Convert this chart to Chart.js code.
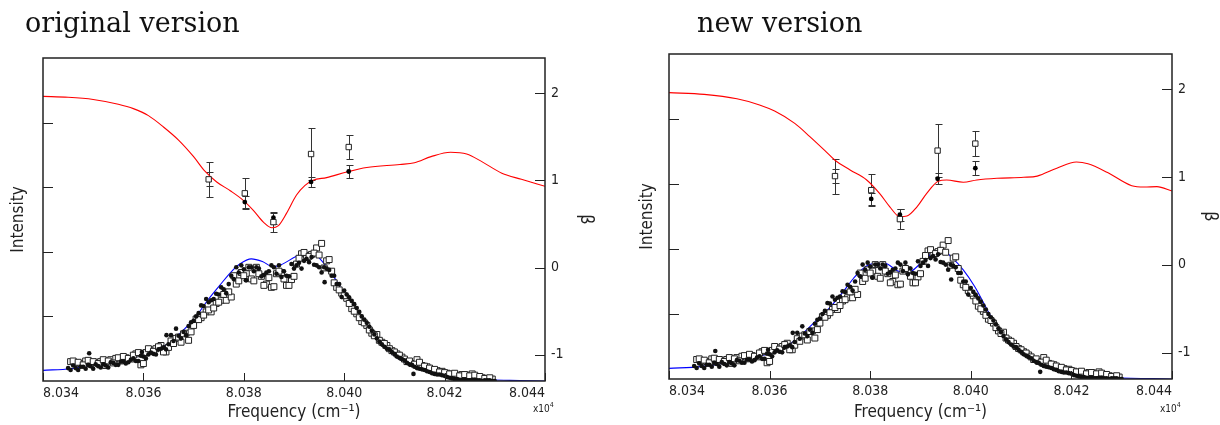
<!DOCTYPE html>
<html>
<head>
<meta charset="utf-8">
<script src="https://cdn.jsdelivr.net/npm/chart.js@4.4.1/dist/chart.umd.min.js"></script>
<style>
  body { margin: 0; background: #fff; width: 1220px; height: 425px; overflow: hidden; position: relative; }
  .panel { position: absolute; top: 0; width: 610px; height: 425px; }
  .title { position: absolute; top: 9px; font-family: 'DejaVu Serif', serif; font-size: 27px; line-height: 1; color: #111; white-space: nowrap; }
</style>
</head>
<body>
<div class="panel" style="left:0"><canvas id="orig" width="610" height="425"></canvas></div>
<div class="panel" style="left:610px"><canvas id="new" width="610" height="425"></canvas></div>
<div class="title" style="left:25px">original version</div>
<div class="title" style="left:697px">new version</div>
<script>
// axis ticks
const xTickValues = [80340, 80360, 80380, 80400, 80420, 80440];
const xTickLabels = ['8.034', '8.036', '8.038', '8.040', '8.042', '8.044'];
const intensityTicks = [1, 2, 3, 4];
const betaTicks = [-1, 0, 1, 2];

// measured spectrum, filled dots (cm-1, intensity)
const dotFreq = [80345, 80346, 80347, 80348, 80349, 80350, 80351, 80352, 80353, 80354,
  80355, 80356, 80357, 80358, 80359, 80360, 80361, 80362, 80363, 80364,
  80365, 80366, 80367, 80368, 80369, 80370, 80371, 80372, 80373, 80374,
  80375, 80376, 80377, 80378, 80379, 80380, 80381, 80382, 80383, 80384,
  80385, 80386, 80387, 80388, 80389, 80390, 80391, 80392, 80393, 80394,
  80395, 80396, 80397, 80398, 80399, 80400, 80401, 80402, 80403, 80404,
  80405, 80406, 80407, 80408, 80409, 80410, 80411, 80412, 80413, 80414,
  80415, 80416, 80417, 80418, 80419, 80420, 80421, 80422, 80423, 80424,
  80425, 80426, 80427, 80428, 80429, 80430,
  80345.5, 80346.5, 80347.5, 80348.5, 80349.5, 80350.5, 80351.5, 80352.5, 80353.5, 80354.5,
  80355.5, 80356.5, 80357.5, 80358.5, 80359.5, 80360.5, 80361.5, 80362.5, 80363.5, 80364.5,
  80365.5, 80366.5, 80367.5, 80368.5, 80369.5, 80370.5, 80371.5, 80372.5, 80373.5, 80374.5,
  80375.5, 80376.5, 80377.5, 80378.5, 80379.5, 80380.5, 80381.5, 80382.5, 80383.5, 80384.5,
  80385.5, 80386.5, 80387.5, 80388.5, 80389.5, 80390.5, 80391.5, 80392.5, 80393.5, 80394.5,
  80395.5, 80396.5, 80397.5, 80398.5, 80399.5, 80400.5, 80401.5, 80402.5, 80403.5, 80404.5,
  80405.5, 80406.5, 80407.5, 80408.5, 80409.5, 80410.5, 80411.5, 80412.5, 80413.5, 80414.5,
  80415.5, 80416.5, 80417.5, 80418.5, 80419.5, 80420.5, 80421.5, 80422.5, 80423.5, 80424.5,
  80425.5, 80426.5, 80427.5, 80428.5, 80429.5,
  80349.2, 80359.7, 80364.6, 80380.4, 80396.1, 80413.8];
const dotInt = [0.20, 0.24, 0.17, 0.22, 0.25, 0.19, 0.23, 0.26, 0.21, 0.28,
  0.25, 0.30, 0.29, 0.35, 0.31, 0.38, 0.41, 0.42, 0.49, 0.52,
  0.57, 0.62, 0.70, 0.76, 0.85, 0.93, 1.05, 1.16, 1.22, 1.27,
  1.34, 1.42, 1.50, 1.58, 1.68, 1.73, 1.76, 1.70, 1.74, 1.64,
  1.70, 1.76, 1.79, 1.70, 1.62, 1.74, 1.83, 1.86, 1.84, 1.80,
  1.76, 1.76, 1.72, 1.63, 1.50, 1.40, 1.29, 1.19, 1.07, 0.95,
  0.84, 0.72, 0.61, 0.53, 0.49, 0.42, 0.36, 0.32, 0.26, 0.22,
  0.19, 0.17, 0.14, 0.11, 0.10, 0.08, 0.05, 0.03, 0.02, 0.02,
  0.01, 0.02, 0.01, 0.01, 0.01, 0.00,
  0.17, 0.20, 0.22, 0.19, 0.23, 0.26, 0.21, 0.24, 0.29, 0.25,
  0.30, 0.27, 0.33, 0.31, 0.39, 0.35, 0.44, 0.41, 0.50, 0.49,
  0.71, 0.81, 0.66, 0.71, 0.91, 1.00, 1.17, 1.27, 1.25, 1.35,
  1.45, 1.36, 1.63, 1.76, 1.79, 1.56, 1.76, 1.76, 1.62, 1.68,
  1.79, 1.66, 1.61, 1.63, 1.81, 1.79, 1.74, 1.89, 1.92, 1.79,
  1.68, 1.74, 1.63, 1.50, 1.30, 1.34, 1.24, 1.13, 1.00, 0.90,
  0.78, 0.66, 0.57, 0.50, 0.45, 0.38, 0.34, 0.28, 0.25, 0.20,
  0.18, 0.15, 0.12, 0.10, 0.09, 0.06, 0.04, 0.03, 0.02, 0.01,
  0.02, 0.01, 0.00, 0.01, 0.00,
  0.43, 0.45, 0.71, 1.56, 1.53, 0.11];

// measured spectrum, open squares
const sqFreq = [80345.5, 80346.5, 80347.5, 80348.5, 80349.5, 80350.5, 80351.5, 80352.5, 80353.5, 80354.5,
  80355.5, 80356.5, 80357.5, 80358.5, 80359.5, 80360.5, 80361.5, 80362.5, 80363.5, 80364.5,
  80365.5, 80366.5, 80367.5, 80368.5, 80369.5, 80370.5, 80371.5, 80372.5, 80373.5, 80374.5,
  80375.5, 80376.5, 80377.5, 80378.5, 80379.5, 80380.5, 80381.5, 80382.5, 80383.5, 80384.5,
  80385.5, 80386.5, 80387.5, 80388.5, 80389.5, 80390.5, 80391.5, 80392.5, 80393.5, 80394.5,
  80395.5, 80396.5, 80397.5, 80398.5, 80399.5, 80400.5, 80401.5, 80402.5, 80403.5, 80404.5,
  80405.5, 80406.5, 80407.5, 80408.5, 80409.5, 80410.5, 80411.5, 80412.5, 80413.5, 80414.5,
  80415.5, 80416.5, 80417.5, 80418.5, 80419.5, 80420.5, 80421.5, 80422.5, 80423.5, 80424.5,
  80425.5, 80426.5, 80427.5, 80428.5, 80429.5,
  80346, 80347, 80348, 80349, 80350, 80351, 80352, 80353, 80354, 80355,
  80356, 80357, 80358, 80359, 80360, 80361, 80362, 80363, 80364, 80365,
  80366, 80367, 80368, 80369, 80370, 80371, 80372, 80373, 80374, 80375,
  80376, 80377, 80378, 80379, 80380, 80381, 80382, 80383, 80384, 80385,
  80386, 80387, 80388, 80389, 80390, 80391, 80392, 80393, 80394, 80395,
  80396, 80397, 80398, 80399, 80400, 80401, 80402, 80403, 80404, 80405,
  80406, 80407, 80408, 80409, 80410, 80411, 80412, 80413, 80414, 80415,
  80416, 80417, 80418, 80419, 80420, 80421, 80422, 80423, 80424, 80425,
  80426, 80427, 80428, 80429];
const sqInt = [0.30, 0.28, 0.27, 0.31, 0.26, 0.29, 0.30, 0.24, 0.33, 0.35,
  0.31, 0.36, 0.34, 0.42, 0.25, 0.44, 0.48, 0.50, 0.55, 0.45,
  0.62, 0.66, 0.60, 0.74, 0.76, 0.96, 0.98, 1.07, 1.07, 1.20,
  1.25, 1.25, 1.30, 1.50, 1.68, 1.66, 1.58, 1.76, 1.62, 1.50,
  1.45, 1.66, 1.68, 1.48, 1.57, 1.81, 1.97, 1.94, 1.96, 2.06,
  2.13, 1.86, 1.70, 1.45, 1.36, 1.28, 1.12, 1.04, 0.92, 0.86,
  0.74, 0.72, 0.60, 0.55, 0.47, 0.42, 0.37, 0.30, 0.27, 0.33,
  0.24, 0.22, 0.17, 0.16, 0.15, 0.12, 0.10, 0.09, 0.10, 0.09,
  0.11, 0.06, 0.05, 0.04, 0.03,
  0.31, 0.29, 0.25, 0.32, 0.30, 0.27, 0.33, 0.31, 0.28, 0.36,
  0.38, 0.35, 0.40, 0.44, 0.27, 0.50, 0.46, 0.53, 0.45, 0.52,
  0.58, 0.68, 0.73, 0.63, 0.86, 0.95, 1.02, 1.10, 1.13, 1.22,
  1.34, 1.38, 1.63, 1.55, 1.63, 1.76, 1.55, 1.66, 1.48, 1.60,
  1.46, 1.70, 1.58, 1.48, 1.62, 1.90, 1.99, 1.93, 1.98, 1.95,
  1.75, 1.88, 1.52, 1.41, 1.32, 1.20, 1.08, 0.98, 0.90, 0.79,
  0.70, 0.63, 0.58, 0.50, 0.45, 0.40, 0.34, 0.31, 0.26, 0.29,
  0.23, 0.20, 0.18, 0.14, 0.13, 0.11, 0.12, 0.08, 0.10, 0.08,
  0.09, 0.07, 0.04, 0.05];

// measured beta with error bars
const betaFreq = [80373, 80380.2, 80385.9, 80393.4, 80400.9];
const betaSq = [1.01, 0.85, 0.52, 1.30, 1.38];
const betaSqErr = [0.20, 0.18, 0.11, 0.30, 0.14];
const betaDot = [1.01, 0.75, 0.57, 0.98, 1.10];
const betaDotErr = [0.08, 0.07, 0.07, 0.06, 0.08];

// original version fits
const origBetaFreq = [80340, 80345, 80350, 80355, 80358, 80361, 80364, 80367, 80370, 80372.3,
  80374.6, 80377.3, 80379.9, 80381.9, 80383.9, 80385.6, 80386.9, 80388.5, 80390.5, 80392.2,
  80393.8, 80396.5, 80400.5, 80404.5, 80411.1, 80414, 80417.3, 80421.2, 80424.4, 80427.5,
  80431.4, 80435.3, 80440];
const origBeta = [1.96, 1.95, 1.925, 1.87, 1.82, 1.74, 1.61, 1.46, 1.27, 1.10,
  0.98, 0.88, 0.77, 0.655, 0.52, 0.455, 0.48, 0.62, 0.83, 0.94,
  1.00, 1.03, 1.094, 1.145, 1.18, 1.20, 1.27, 1.32, 1.30, 1.21,
  1.08, 1.01, 0.93];
const origIntFreq = [80340, 80345.5, 80350.9, 80357.2, 80361.9, 80365, 80368, 80370.5, 80372.8, 80375.2,
  80377.5, 80379.2, 80381.5, 80383.7, 80385.8, 80387.4, 80390.5, 80392.9, 80394.2, 80395.4,
  80397.2, 80399.2, 80400.5, 80403.5, 80405.6, 80408, 80410.3, 80413.4, 80417.3, 80421.3,
  80425.2, 80433, 80440];
const origInt = [0.165, 0.19, 0.26, 0.35, 0.45, 0.58, 0.79, 1.00, 1.25, 1.48,
  1.69, 1.81, 1.89, 1.85, 1.77, 1.80, 1.93, 1.99, 1.97, 1.87,
  1.70, 1.45, 1.27, 0.95, 0.72, 0.52, 0.37, 0.24, 0.14, 0.07,
  0.036, 0.01, 0];

// new version fits
const newBetaFreq = [80340, 80347, 80353.5, 80358, 80361, 80365, 80368, 80371, 80373, 80376,
  80379.3, 80381.9, 80383.9, 80385.9, 80387.3, 80389.3, 80391.2, 80393.5, 80395.2, 80398.5,
  80401.2, 80405.2, 80410.5, 80413.2, 80417.1, 80421, 80423.3, 80427.2, 80432, 80434.5,
  80437, 80440];
const newBeta = [1.96, 1.94, 1.89, 1.82, 1.75, 1.61, 1.46, 1.30, 1.19, 1.08,
  0.966, 0.81, 0.66, 0.547, 0.555, 0.66, 0.81, 0.95, 0.966, 0.94,
  0.966, 0.985, 0.996, 1.01, 1.10, 1.17, 1.15, 1.05, 0.90, 0.885,
  0.89, 0.84];
const newIntFreq = [80340, 80346.4, 80352.7, 80358.9, 80362.7, 80365.9, 80369, 80372.1, 80374.4, 80376.7,
  80379.1, 80381.4, 80382.9, 80385.3, 80386.8, 80388.4, 80390.7, 80393, 80394.6, 80396.1,
  80398.5, 80400.8, 80403.1, 80405.4, 80407.8, 80410.1, 80413.2, 80417.1, 80421, 80428.7,
  80440];
const newInt = [0.164, 0.19, 0.27, 0.37, 0.47, 0.65, 0.88, 1.11, 1.32, 1.55,
  1.73, 1.78, 1.78, 1.67, 1.63, 1.67, 1.83, 1.96, 1.97, 1.88,
  1.68, 1.42, 1.09, 0.78, 0.55, 0.39, 0.27, 0.14, 0.06, 0.02,
  0];

const sans = "'DejaVu Sans Condensed', 'Liberation Sans Narrow', 'DejaVu Sans', sans-serif";
const ink = '#222';

function pairs(xs, ys) {
  return xs.map((x, i) => ({ x: x, y: ys[i] }));
}

// vertical error bars for datasets carrying an "errors" array
const errorBars = {
  id: 'errorBars',
  beforeDatasetsDraw(chart) {
    const ctx = chart.ctx;
    const yB = chart.scales.yB;
    ctx.save();
    ctx.strokeStyle = '#333';
    ctx.lineWidth = 1;
    chart.data.datasets.forEach((ds, i) => {
      if (!ds.errors) return;
      chart.getDatasetMeta(i).data.forEach((pt, j) => {
        const v = ds.data[j].y, e = ds.errors[j];
        const x = Math.round(pt.x) + 0.5;
        const y1 = Math.round(yB.getPixelForValue(v + e)) + 0.5;
        const y2 = Math.round(yB.getPixelForValue(v - e)) + 0.5;
        ctx.beginPath();
        ctx.moveTo(x, y1); ctx.lineTo(x, y2);
        ctx.moveTo(x - 3, y1); ctx.lineTo(x + 4, y1);
        ctx.moveTo(x - 3, y2); ctx.lineTo(x + 4, y2);
        ctx.stroke();
      });
    });
    ctx.restore();
  }
};

// box, inward ticks and the x10^4 factor
const frame = {
  id: 'frame',
  afterDraw(chart) {
    const { ctx, chartArea: a, scales } = chart;
    ctx.save();
    ctx.strokeStyle = ink;
    ctx.lineWidth = 1;
    ctx.beginPath();
    xTickValues.forEach(v => {
      const px = Math.round(scales.x.getPixelForValue(v)) + 0.5;
      ctx.moveTo(px, a.bottom); ctx.lineTo(px, a.bottom - 8);
    });
    intensityTicks.forEach(v => {
      const py = Math.round(scales.yI.getPixelForValue(v)) + 0.5;
      ctx.moveTo(a.left, py); ctx.lineTo(a.left + 10, py);
    });
    betaTicks.forEach(v => {
      const py = Math.round(scales.yB.getPixelForValue(v)) + 0.5;
      ctx.moveTo(a.right, py); ctx.lineTo(a.right - 10, py);
    });
    ctx.stroke();
    ctx.lineWidth = 1.5;
    ctx.strokeRect(a.left, a.top, a.right - a.left, a.bottom - a.top);
    ctx.fillStyle = ink;
    ctx.textAlign = 'left';
    ctx.textBaseline = 'alphabetic';
    ctx.font = '10px ' + sans;
    const w = ctx.measureText('x10').width;
    ctx.fillText('x10', a.right - 12, 412);
    ctx.font = '7px ' + sans;
    ctx.fillText('4', a.right - 12 + w, 407);
    ctx.restore();
  }
};

function buildPanel(id, box, bFreq, bVals, iFreq, iVals) {
  const ctx = document.getElementById(id).getContext('2d');
  return new Chart(ctx, {
    type: 'scatter',
    data: {
      datasets: [
        { data: pairs(betaFreq, betaSq), yAxisID: 'yB', pointStyle: 'rect', pointRadius: 3.8,
          borderColor: '#222', backgroundColor: '#fff', borderWidth: 1, errors: betaSqErr, order: 0 },
        { data: pairs(betaFreq, betaDot), yAxisID: 'yB', pointStyle: 'circle', pointRadius: 2.4,
          borderColor: '#000', backgroundColor: '#000', borderWidth: 0, errors: betaDotErr, order: 1 },
        { type: 'line', data: pairs(bFreq, bVals), yAxisID: 'yB', borderColor: '#ff0000', borderWidth: 1.1,
          pointRadius: 0, cubicInterpolationMode: 'monotone', fill: false, order: 2 },
        { data: pairs(dotFreq, dotInt), yAxisID: 'yI', pointStyle: 'circle', pointRadius: 2.3,
          borderColor: '#111', backgroundColor: '#111', borderWidth: 0, order: 3 },
        { data: pairs(sqFreq, sqInt), yAxisID: 'yI', pointStyle: 'rect', pointRadius: 4.2,
          borderColor: '#222', backgroundColor: '#fff', borderWidth: 1, order: 4 },
        { type: 'line', data: pairs(iFreq, iVals), yAxisID: 'yI', borderColor: '#0000ff', borderWidth: 1.1,
          pointRadius: 0, cubicInterpolationMode: 'monotone', fill: false, order: 5 }
      ]
    },
    options: {
      responsive: false,
      animation: false,
      events: [],
      layout: { padding: { top: box.top, left: 0, right: 0, bottom: 0 } },
      plugins: { legend: { display: false }, tooltip: { enabled: false } },
      scales: {
        x: {
          type: 'linear', min: 80340, max: 80440,
          afterBuildTicks: s => { s.ticks = xTickValues.map(v => ({ value: v })); },
          afterFit: s => { s.height = 425 - box.bottom; },
          grid: { display: false, drawTicks: false },
          border: { display: false },
          ticks: { align: 'inner', padding: 4, color: ink, autoSkip: false, maxRotation: 0,
                   font: { family: sans, size: 14 }, callback: (v, i) => xTickLabels[i] },
          title: { display: true, text: 'Frequency (cm⁻¹)', color: ink,
                   font: { family: sans, size: 17 }, padding: { top: 0, bottom: 2 } }
        },
        yI: {
          type: 'linear', position: 'left', min: 0, max: 5,
          afterBuildTicks: s => { s.ticks = intensityTicks.map(v => ({ value: v })); },
          afterFit: s => { s.width = box.left; },
          grid: { display: false, drawTicks: false },
          border: { display: false },
          ticks: { display: false },
          title: { display: true, text: 'Intensity', color: ink,
                   font: { family: sans, size: 17 }, padding: { top: box.intPad, bottom: 0 } }
        },
        yB: {
          type: 'linear', position: 'right', min: -1.3, max: 2.4,
          afterBuildTicks: s => { s.ticks = betaTicks.map(v => ({ value: v })); },
          afterFit: s => { s.width = 610 - box.right; },
          grid: { display: false, drawTicks: false },
          border: { display: false },
          ticks: { padding: 6, color: ink, font: { family: sans, size: 14 } },
          title: { display: true, text: 'β', color: ink,
                   font: { family: sans, size: 18 }, padding: { top: box.betaPad, bottom: 0 } }
        }
      }
    },
    plugins: [errorBars, frame]
  });
}

buildPanel('orig', { left: 43, right: 545, top: 58, bottom: 381, intPad: 8, betaPad: 14 },
  origBetaFreq, origBeta, origIntFreq, origInt);
buildPanel('new', { left: 59, right: 562, top: 54, bottom: 379, intPad: 27, betaPad: 0 },
  newBetaFreq, newBeta, newIntFreq, newInt);
</script>
</body>
</html>
